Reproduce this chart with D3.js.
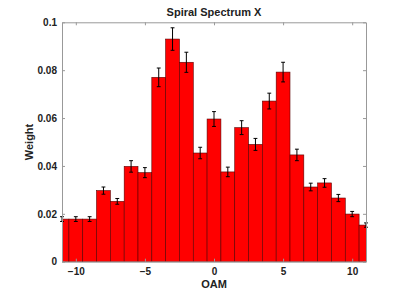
<!DOCTYPE html>
<html>
<head>
<meta charset="utf-8">
<script src="https://cdn.jsdelivr.net/npm/d3@7"></script>
<style>
    body { margin: 0; background: #fff; }
    text { font-family: "Liberation Sans", Arial, sans-serif; font-weight: bold; fill: #222; }
    .axis path, .axis line { stroke: #999; }
    .axis text { font-size: 10px; fill: #222; }
</style>
</head>
<body>
<div id="canvas"></div>
<script>
"use strict"

let svgWidth = 415
let svgHeight = 294

let margin = { top: 22.3, right: 49, bottom: 32.3, left: 62 }

let width = svgWidth - margin.left - margin.right
let height = svgHeight - margin.top - margin.bottom

// ---------------- DATA ----------------
let oam = [-11, -10, -9, -8, -7, -6, -5, -4, -3, -2, -1, 0, 1, 2, 3, 4, 5, 6, 7, 8, 9, 10, 11]
let weights = [0.0178, 0.0178, 0.0178, 0.0297, 0.0252, 0.0398, 0.0372, 0.0770, 0.0930, 0.0833, 0.0454,
    0.0596, 0.0375, 0.0560, 0.0490, 0.0671, 0.0792, 0.0446, 0.0312, 0.0329, 0.0266, 0.0199, 0.0153]
let errors = [0.0010, 0.0010, 0.0010, 0.0015, 0.0012, 0.0024, 0.0021, 0.0039, 0.0047, 0.0042, 0.0024,
    0.0031, 0.0020, 0.0029, 0.0025, 0.0033, 0.0041, 0.0024, 0.0016, 0.0018, 0.0015, 0.0011, 0.0009]
let xTicks = [-10, -5, 0, 5, 10]
let yTicks = [0, 0.02, 0.04, 0.06, 0.08, 0.1]

let data = oam.map(function(d, i) {
    return { oam: d, weight: weights[i], err: errors[i] }
})

let svg = d3.select("#canvas")
    .append("svg")
    .attr("width", svgWidth)
    .attr("height", svgHeight)

let viz = svg.append("g")
    .attr("transform", `translate(${margin.left},${margin.top})`)

// ---------------- SCALES ----------------
let xScale = d3.scaleLinear().domain([-11, 11]).range([0, width])
let yScale = d3.scaleLinear().domain([0, 0.1]).range([height, 0])

svg.append("defs").append("clipPath")
    .attr("id", "plotClip")
    .append("rect")
    .attr("width", width)
    .attr("height", height)

// ---------------- BARS ----------------
viz.append("g")
    .attr("clip-path", "url(#plotClip)")
    .selectAll("rect")
    .data(data)
    .enter()
    .append("rect")
    .attr("x", function(d) { return xScale(d.oam - 0.5) })
    .attr("width", function(d) { return xScale(d.oam + 0.5) - xScale(d.oam - 0.5) })
    .attr("y", function(d) { return yScale(d.weight) })
    .attr("height", function(d) { return yScale(0) - yScale(d.weight) })
    .attr("fill", "#ff0000")
    .attr("stroke", "#5a0000")
    .attr("stroke-width", 0.6)

// ---------------- ERROR BARS ----------------
let errG = viz.append("g")
    .attr("stroke", "#000")
    .attr("stroke-width", 1)

errG.selectAll("line.stem")
    .data(data)
    .enter()
    .append("line")
    .attr("class", "stem")
    .attr("x1", function(d) { return xScale(d.oam) })
    .attr("x2", function(d) { return xScale(d.oam) })
    .attr("y1", function(d) { return yScale(d.weight - d.err) })
    .attr("y2", function(d) { return yScale(d.weight + d.err) })

let capHalf = 0.14
;["top", "bottom"].forEach(function(side) {
    errG.selectAll("line.cap-" + side)
        .data(data)
        .enter()
        .append("line")
        .attr("class", "cap-" + side)
        .attr("x1", function(d) { return xScale(d.oam - capHalf) })
        .attr("x2", function(d) { return xScale(d.oam + capHalf) })
        .attr("y1", function(d) { return yScale(side === "top" ? d.weight + d.err : d.weight - d.err) })
        .attr("y2", function(d) { return yScale(side === "top" ? d.weight + d.err : d.weight - d.err) })
})

// ---------------- AXES ----------------
viz.append("g")
    .attr("class", "axis")
    .attr("transform", `translate(0,${height})`)
    .call(d3.axisBottom(xScale).tickValues(xTicks).tickSizeInner(-3).tickSizeOuter(0).tickPadding(6))

viz.append("g")
    .attr("class", "axis")
    .call(d3.axisTop(xScale).tickValues(xTicks).tickSizeInner(-3).tickSizeOuter(0).tickFormat(""))

viz.append("g")
    .attr("class", "axis")
    .call(d3.axisLeft(yScale).tickValues(yTicks).tickSizeInner(-3).tickSizeOuter(0).tickPadding(5)
        .tickFormat(function(d) { return d === 0 ? "0" : d3.format("")(+d.toFixed(2)) }))

viz.append("g")
    .attr("class", "axis")
    .attr("transform", `translate(${width},0)`)
    .call(d3.axisRight(yScale).tickValues(yTicks).tickSizeInner(-3).tickSizeOuter(0).tickFormat(""))

viz.selectAll(".axis .domain").attr("stroke", "#999")

// ---------------- LABELS ----------------
viz.append("text")
    .attr("x", width / 2)
    .attr("y", -6)
    .attr("text-anchor", "middle")
    .style("font-size", "11px")
    .text("Spiral Spectrum X")

viz.append("text")
    .attr("x", width / 2)
    .attr("y", height + 26)
    .attr("text-anchor", "middle")
    .style("font-size", "11px")
    .text("OAM")

viz.append("text")
    .attr("transform", "rotate(-90)")
    .attr("x", -height / 2)
    .attr("y", -29)
    .attr("text-anchor", "middle")
    .style("font-size", "11px")
    .text("Weight")
</script>
</body>
</html>
